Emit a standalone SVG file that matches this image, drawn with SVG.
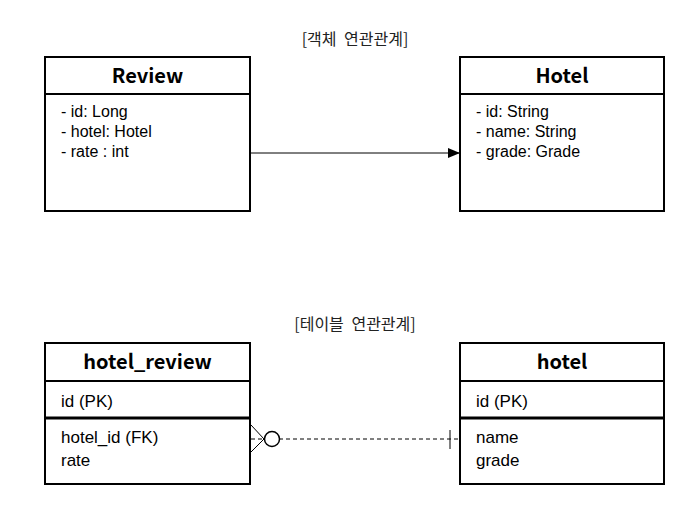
<svg xmlns="http://www.w3.org/2000/svg" width="699" height="526" viewBox="0 0 699 526">
<style>
.box{fill:#fff;stroke:#000;stroke-width:2}
.sep{stroke:#000;stroke-width:2}
.sep3{stroke:#000;stroke-width:3}
.hd{font-family:"Noto Sans CJK KR","Noto Sans",sans-serif;font-weight:bold;font-size:20px;fill:#000;text-anchor:middle}
.tx{font-family:"Liberation Sans",Arial,sans-serif;font-size:16px;fill:#000}
.tx2{font-family:"Liberation Sans",Arial,sans-serif;font-size:17px;fill:#000}
.ttl{font-family:"Noto Sans CJK KR","Noto Sans",sans-serif;font-size:16px;fill:#222;text-anchor:middle;word-spacing:4px}
.ln{stroke:#000;stroke-width:1;fill:none}
</style>
<defs>
<marker id="arr" viewBox="0 0 12 10" refX="12" refY="5" markerWidth="12" markerHeight="10" markerUnits="userSpaceOnUse" orient="auto">
<path d="M0,0 L12,5 L0,10 Z" fill="#000"/>
</marker>
</defs>
<text class="ttl" x="355" y="45">[객체 연관관계]</text>
<text class="ttl" x="355" y="330">[테이블 연관관계]</text>
<g id="review">
<rect class="box" x="45" y="57" width="205" height="154"/>
<line class="sep" x1="45" y1="94" x2="250" y2="94"/>
<text class="hd" x="147.5" y="83">Review</text>
<text class="tx" x="61" y="117">- id: Long</text>
<text class="tx" x="61" y="137">- hotel: Hotel</text>
<text class="tx" x="61" y="157">- rate : int</text>
</g>
<g id="hotel-class">
<rect class="box" x="460" y="57" width="204" height="154"/>
<line class="sep" x1="460" y1="94" x2="664" y2="94"/>
<text class="hd" x="562" y="83">Hotel</text>
<text class="tx" x="476" y="117">- id: String</text>
<text class="tx" x="476" y="137">- name: String</text>
<text class="tx" x="476" y="157">- grade: Grade</text>
</g>
<g id="hotel_review">
<rect class="box" x="45" y="343" width="205" height="141"/>
<line class="sep" x1="45" y1="381" x2="250" y2="381"/>
<line class="sep3" x1="45" y1="418" x2="250" y2="418"/>
<text class="hd" x="147.5" y="369">hotel_review</text>
<text class="tx2" x="61" y="407">id (PK)</text>
<text class="tx2" x="61" y="443">hotel_id (FK)</text>
<text class="tx2" x="61" y="466">rate</text>
</g>
<g id="hotel-table">
<rect class="box" x="460" y="343" width="204" height="141"/>
<line class="sep" x1="460" y1="381" x2="664" y2="381"/>
<line class="sep3" x1="460" y1="418" x2="664" y2="418"/>
<text class="hd" x="562" y="369">hotel</text>
<text class="tx2" x="476" y="407">id (PK)</text>
<text class="tx2" x="476" y="443">name</text>
<text class="tx2" x="476" y="466">grade</text>
</g>
<g id="connectors">
<line class="ln" x1="251" y1="153" x2="460" y2="153" marker-end="url(#arr)"/>
<line class="ln" x1="251" y1="439" x2="459" y2="439" stroke-dasharray="4,3"/>
<line class="ln" x1="251" y1="425" x2="264" y2="439"/>
<line class="ln" x1="251" y1="452" x2="264" y2="439"/>
<circle cx="272" cy="439" r="7.5" fill="#fff" stroke="#000" stroke-width="1.5"/>
<line class="ln" x1="450" y1="430" x2="450" y2="449"/>
</g>
</svg>
